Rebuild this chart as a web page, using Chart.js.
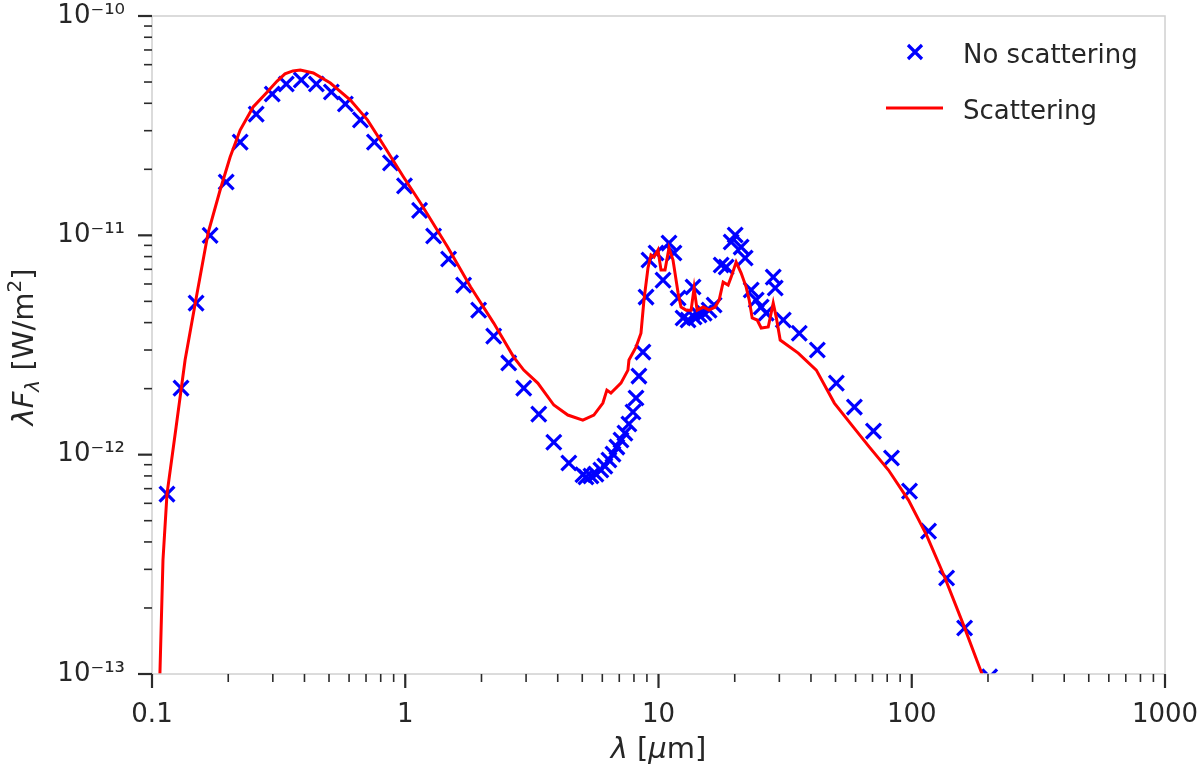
<!DOCTYPE html>
<html><head><meta charset="utf-8">
<script src="https://cdn.jsdelivr.net/npm/chart.js@4.4.0/dist/chart.umd.min.js"></script>
<style>html,body{margin:0;padding:0;background:#fff;}canvas{display:block;}</style>
</head><body>
<canvas id="c" width="1200" height="772"></canvas>
<script>
// ---- data ----
const wavelengthNoScattering = [0.1146,0.1302,0.1493,0.1696,0.1963,0.2229,0.2579,0.2984,0.3390,0.3886,0.4456,0.5107,0.5801,0.6653,0.7556,0.8742,0.9931,1.139,1.294,1.483,1.700,1.949,2.235,2.562,2.937,3.367,3.860,4.425,5.03,5.17,5.41,5.66,5.92,6.14,6.37,6.61,6.85,7.11,7.37,7.64,7.93,8.15,8.37,8.68,8.93,9.17,9.78,10.42,11.00,11.51,11.95,12.50,13.08,13.69,13.82,14.46,15.14,15.84,16.58,17.68,18.50,19.36,20.08,21.20,21.99,23.23,24.31,25.44,26.63,28.38,28.90,31.10,35.96,42.38,50.38,59.36,70.60,83.17,97.97,116.5,137.3,161.7,203.0];
const fluxNoScattering = [6.61e-13,2.01e-12,4.91e-12,1.00e-11,1.75e-11,2.66e-11,3.57e-11,4.41e-11,4.90e-11,5.11e-11,4.90e-11,4.50e-11,3.97e-11,3.36e-11,2.66e-11,2.14e-11,1.68e-11,1.30e-11,9.93e-12,7.80e-12,5.93e-12,4.56e-12,3.47e-12,2.62e-12,2.01e-12,1.53e-12,1.14e-12,9.16e-13,8.10e-13,7.91e-13,7.99e-13,8.15e-13,8.51e-13,8.87e-13,9.45e-13,1.006e-12,1.083e-12,1.166e-12,1.254e-12,1.379e-12,1.564e-12,1.812e-12,2.282e-12,2.936e-12,5.23e-12,7.72e-12,8.31e-12,6.25e-12,9.22e-12,8.31e-12,5.18e-12,4.20e-12,4.11e-12,5.81e-12,4.24e-12,4.33e-12,4.42e-12,4.56e-12,4.81e-12,7.32e-12,7.17e-12,9.32e-12,1.003e-11,8.84e-12,7.88e-12,5.63e-12,5.07e-12,4.71e-12,4.42e-12,6.45e-12,5.75e-12,4.11e-12,3.58e-12,3.00e-12,2.12e-12,1.648e-12,1.281e-12,9.65e-13,6.82e-13,4.48e-13,2.74e-13,1.62e-13,0.97e-13];
const wavelengthScattering = [0.1072,0.1105,0.1146,0.1245,0.1351,0.1507,0.1665,0.1858,0.2035,0.2229,0.2509,0.2851,0.3120,0.3350,0.3600,0.3851,0.4335,0.5061,0.6071,0.7090,0.8203,0.9842,1.149,1.470,1.812,2.235,2.681,2.937,3.337,3.860,4.385,5.026,5.556,6.031,6.254,6.487,7.106,7.574,7.644,8.147,8.527,8.762,9.088,9.340,9.599,9.954,10.23,10.61,11.00,11.41,11.95,12.27,12.85,13.45,13.82,14.21,15.01,15.84,16.73,17.36,18.00,18.84,19.36,20.26,21.20,22.19,22.81,23.44,24.53,25.44,27.12,28.38,29.16,30.24,35.63,41.99,49.47,58.82,68.05,80.91,97.07,114.4,134.8,160.2,188.8,192.0];
const fluxScattering = [9.0e-14,3.31e-13,6.61e-13,1.336e-12,2.70e-12,5.46e-12,1.024e-11,1.609e-11,2.275e-11,3.02e-11,3.85e-11,4.50e-11,5.05e-11,5.45e-11,5.62e-11,5.67e-11,5.50e-11,4.95e-11,4.14e-11,3.36e-11,2.58e-11,1.845e-11,1.404e-11,8.84e-12,5.81e-12,3.98e-12,2.786e-12,2.43e-12,2.12e-12,1.684e-12,1.516e-12,1.438e-12,1.516e-12,1.719e-12,1.970e-12,1.910e-12,2.12e-12,2.43e-12,2.70e-12,3.09e-12,3.58e-12,5.07e-12,7.10e-12,8.13e-12,7.96e-12,8.57e-12,6.95e-12,6.95e-12,8.75e-12,7.72e-12,5.46e-12,4.71e-12,4.56e-12,4.56e-12,5.75e-12,4.56e-12,4.71e-12,4.56e-12,4.71e-12,5.07e-12,6.12e-12,5.93e-12,6.45e-12,7.55e-12,6.73e-12,5.81e-12,5.07e-12,4.20e-12,4.11e-12,3.78e-12,3.82e-12,4.91e-12,4.24e-12,3.33e-12,2.905e-12,2.43e-12,1.719e-12,1.336e-12,1.083e-12,8.51e-13,6.21e-13,4.30e-13,2.77e-13,1.67e-13,1.01e-13,9.0e-14];
const seriesNames = ['No scattering', 'Scattering'];
const xTickValues = [0.1, 1, 10, 100, 1000];
const xTickLabels = ['0.1', '1', '10', '100', '1000'];
const yTickValues = [1e-13, 1e-12, 1e-11, 1e-10];
const yTickLabels = ['10\u207B\u00B9\u00B3', '10\u207B\u00B9\u00B2', '10\u207B\u00B9\u00B9', '10\u207B\u00B9\u2070'];

// ---- styling ----
const FONT = '"DejaVu Sans", sans-serif';
const TEXT = '#262626';
const SPINE = '#d0d0d0';
const TICK = '#2b2b2b';

function logTicks(lo, hi) {
  const out = [];
  const e0 = Math.round(Math.log10(lo)), e1 = Math.round(Math.log10(hi));
  for (let e = e0; e < e1; e++) for (let k = 1; k < 10; k++) out.push(parseFloat((k * Math.pow(10, e)).toPrecision(6)));
  out.push(hi);
  return out;
}
function labelFor(v, vals, labs) {
  for (let i = 0; i < vals.length; i++) if (Math.abs(v / vals[i] - 1) < 1e-6) return labs[i];
  return '';
}
function isMajor(v) { const l = Math.log10(v); return Math.abs(l - Math.round(l)) < 1e-6; }

function drawRich(ctx, segs, x, y) {
  let total = 0;
  segs.forEach(s => { ctx.font = s.font; s.w = ctx.measureText(s.t).width; total += s.w; });
  let cx = x - total / 2;
  segs.forEach(s => { ctx.font = s.font; ctx.fillText(s.t, cx, y + (s.dy || 0)); cx += s.w; });
}

const decorPlugin = {
  id: 'decor',
  afterDatasetsDraw(chart) {
    const ctx = chart.ctx, a = chart.chartArea;
    ctx.save();
    ctx.strokeStyle = SPINE; ctx.lineWidth = 1.5;
    ctx.strokeRect(a.left, a.top, a.right - a.left, a.bottom - a.top);
    ctx.strokeStyle = TICK; ctx.lineCap = 'butt';
    const xs = chart.scales.x, ys = chart.scales.y;
    xs.ticks.forEach(t => {
      const maj = isMajor(t.value), len = maj ? 14 : 8;
      const px = xs.getPixelForValue(t.value);
      ctx.lineWidth = maj ? 2.2 : 1.6;
      ctx.beginPath(); ctx.moveTo(px, a.bottom); ctx.lineTo(px, a.bottom + len); ctx.stroke();
    });
    ys.ticks.forEach(t => {
      const maj = isMajor(t.value), len = maj ? 14 : 8;
      const py = ys.getPixelForValue(t.value);
      ctx.lineWidth = maj ? 2.2 : 1.6;
      ctx.beginPath(); ctx.moveTo(a.left - len, py); ctx.lineTo(a.left, py); ctx.stroke();
    });
    ctx.restore();
  },
  afterDraw(chart) {
    const ctx = chart.ctx, a = chart.chartArea;
    ctx.save();
    ctx.fillStyle = TEXT; ctx.textBaseline = 'alphabetic';
    const it = 'italic 29px ' + FONT, rg = '29px ' + FONT, itS = 'italic 20px ' + FONT, rgS = '20px ' + FONT;
    drawRich(ctx, [{t: '\u03BB', font: it}, {t: ' [', font: rg}, {t: '\u03BC', font: it}, {t: 'm]', font: rg}], (a.left + a.right) / 2, 758);
    ctx.save();
    ctx.translate(33, (a.top + a.bottom) / 2 + 2);
    ctx.rotate(-Math.PI / 2);
    drawRich(ctx, [{t: '\u03BBF', font: it}, {t: '\u03BB', font: itS, dy: 6}, {t: ' [W/m', font: rg}, {t: '2', font: rgS, dy: -12}, {t: ']', font: rg}], 0, 0);
    ctx.restore();
    // legend
    const lx = a.right - 250;
    const rl = '26px ' + FONT;
    ctx.strokeStyle = '#0000ff'; ctx.lineWidth = 3.2;
    ctx.beginPath();
    ctx.moveTo(lx - 7, 52 - 7); ctx.lineTo(lx + 7, 52 + 7);
    ctx.moveTo(lx - 7, 52 + 7); ctx.lineTo(lx + 7, 52 - 7);
    ctx.stroke();
    ctx.strokeStyle = '#ff0000'; ctx.lineWidth = 3;
    ctx.beginPath(); ctx.moveTo(lx - 29, 108); ctx.lineTo(lx + 28, 108); ctx.stroke();
    ctx.font = rl; ctx.textAlign = 'left';
    ctx.fillText(seriesNames[0], a.right - 202, 63);
    ctx.fillText(seriesNames[1], a.right - 202, 119);
    ctx.restore();
  }
};

const noScatPts = wavelengthNoScattering.map((x, i) => ({x: x, y: fluxNoScattering[i]}));
const scatPts = wavelengthScattering.map((x, i) => ({x: x, y: fluxScattering[i]}));

new Chart(document.getElementById('c'), {
  type: 'scatter',
  data: {
    datasets: [
      {label: seriesNames[1], data: scatPts, showLine: true, borderColor: '#ff0000', backgroundColor: '#ff0000', borderWidth: 3, pointRadius: 0, tension: 0, order: 0, clip: 0},
      {label: seriesNames[0], data: noScatPts, showLine: false, pointStyle: 'crossRot', pointRadius: 10.5, pointBorderWidth: 3.2, borderColor: '#0000ff', backgroundColor: '#0000ff', order: 1, clip: 0}
    ]
  },
  options: {
    responsive: false, animation: false, devicePixelRatio: 1,
    layout: {padding: {left: 0, right: 35, top: 16, bottom: 0}},
    plugins: {legend: {display: false}, tooltip: {enabled: false}},
    scales: {
      x: {
        type: 'logarithmic', min: 0.1, max: 1000,
        afterBuildTicks: s => { s.ticks = logTicks(0.1, 1000).map(v => ({value: v})); },
        afterFit: s => { s.height = 98; s.paddingLeft = 0; s.paddingRight = 0; },
        grid: {display: false, drawTicks: false}, border: {display: false},
        ticks: {autoSkip: false, maxRotation: 0, minRotation: 0, padding: 26, color: TEXT, font: {family: FONT, size: 26},
          callback: v => labelFor(v, xTickValues, xTickLabels)}
      },
      y: {
        type: 'logarithmic', min: 1e-13, max: 1e-10,
        afterBuildTicks: s => { s.ticks = logTicks(1e-13, 1e-10).map(v => ({value: v})); },
        afterFit: s => { s.width = 152; s.paddingTop = 0; s.paddingBottom = 0; },
        grid: {display: false, drawTicks: false}, border: {display: false},
        ticks: {autoSkip: false, padding: 27, color: TEXT, font: {family: FONT, size: 26},
          callback: v => labelFor(v, yTickValues, yTickLabels)}
      }
    }
  },
  plugins: [decorPlugin]
});
</script>
</body></html>
